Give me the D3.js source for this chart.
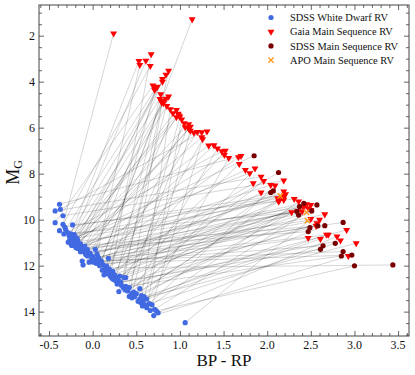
<!DOCTYPE html>
<html>
<head>
<meta charset="utf-8">
<script src="https://cdn.jsdelivr.net/npm/d3@7"></script>
<style>
  body { margin: 0; background: #fff; }
  svg text { font-family: "Liberation Serif", "DejaVu Serif", serif; fill: #111; }
</style>
</head>
<body>
<div id="chart"></div>
<script>
// main sequence companions (BP-RP, M_G) and where the RV came from
const msBpRp = [
  0.24, 1.14, 0.53, 0.54, 0.61, 0.67, 0.66, 0.87, 0.84, 0.80, 0.80, 0.69, 0.72, 0.74, 0.71, 0.78,
  0.77, 0.80, 0.81, 0.79, 0.84, 0.87, 0.85, 0.89, 0.96, 0.92, 0.98, 1.00, 0.96, 1.02, 0.99, 1.05,
  1.06, 1.10, 1.12, 1.12, 1.16, 1.20, 1.25, 1.31, 1.25, 1.26, 1.33, 1.39, 1.43, 1.48, 1.52, 1.51,
  1.56, 1.67, 1.70, 1.68, 1.75, 1.86, 1.80, 1.84, 1.93, 1.96, 2.04, 2.09, 2.19, 1.93, 2.12, 2.14,
  2.20, 2.19, 2.21, 2.17, 2.19, 2.13, 2.31, 2.36, 2.28, 2.35, 2.40, 2.41, 2.45, 2.50, 2.47, 2.50,
  2.66, 2.50, 2.60, 2.57, 2.56, 2.68, 2.70, 2.91, 2.80, 2.84, 2.61, 2.47, 3.02, 2.93, 1.10, 2.43,
  1.85, 2.13, 2.07, 2.04, 2.42, 2.37, 2.57, 2.51, 2.34, 2.36, 2.58, 2.66, 2.87, 2.49, 2.47, 2.78,
  2.64, 2.61, 2.87, 2.85, 2.97, 3.00, 3.44,
  2.15, 2.45, 2.46
];
const msMag = [
  1.90, 1.29, 3.10, 3.27, 3.09, 2.81, 3.32, 3.53, 3.70, 3.88, 4.00, 4.17, 4.29, 4.22, 4.36, 4.55,
  4.75, 4.84, 4.94, 4.90, 4.74, 4.65, 5.06, 5.20, 5.23, 5.37, 5.40, 5.52, 5.55, 5.64, 5.47, 5.81,
  5.98, 5.85, 5.96, 6.13, 6.22, 6.19, 6.20, 6.17, 6.42, 6.50, 6.78, 6.77, 6.91, 7.03, 7.00, 7.19,
  7.32, 7.29, 7.23, 7.58, 7.84, 7.78, 7.98, 8.42, 8.13, 8.32, 8.49, 8.52, 8.30, 8.82, 9.07, 9.17,
  8.93, 8.78, 8.90, 9.00, 9.14, 9.21, 9.10, 9.21, 9.68, 9.62, 9.65, 9.43, 9.33, 9.36, 9.50, 9.58,
  9.77, 9.97, 10.01, 10.16, 10.27, 10.66, 10.66, 10.45, 10.73, 10.91, 10.84, 10.80, 11.03, 11.58, 6.05, 9.40,
  7.22, 7.95, 8.75, 8.82, 9.29, 9.43, 9.36, 9.62, 9.65, 9.80, 10.27, 10.26, 10.12, 10.35, 10.52, 11.03,
  11.14, 11.29, 11.39, 11.58, 11.54, 12.01, 11.97,
  8.97, 9.68, 10.04
];
const msSource = [].concat(
  Array(96).fill("gaia"),
  Array(23).fill("sdss"),
  Array(3).fill("apo")
);

// white dwarf of each pair, same order
const wdBpRp = [
  -0.34, 0.10, -0.25, 0.05, -0.22, 0.21, -0.38, 0.36, -0.19, 0.03, -0.27, -0.43, 0.13, -0.16, -0.31, 0.26,
  -0.24, 0.42, -0.12, 0.08, -0.21, 0.30, -0.14, 0.55, -0.20, 0.19, -0.28, 0.45, -0.06, 0.62, -0.23, 0.25,
  -0.17, 0.40, -0.10, 0.58, -0.25, 0.16, -0.37, 0.33, -0.18, 0.66, -0.22, 0.00, 0.47, -0.29, 0.22, -0.13,
  0.60, -0.04, -0.38, 0.29, -0.15, 0.54, -0.26, 0.11, -0.43, 0.37, -0.19, 0.65, -0.34, 0.31, -0.24, 0.50,
  -0.21, 0.07, -0.32, 0.45, -0.18, 0.23, -0.23, 0.68, -0.08, 0.38, -0.33, 0.56, -0.03, 0.27, -0.12, 0.71,
  0.02, 1.06, -0.11, 0.35, 0.04, 0.59, 0.18, 0.42, 0.75, 0.30, 0.62, 0.12, 0.54, 0.70, -0.09, 0.15,
  -0.26, 0.17, -0.14, 0.40, -0.11, 0.20, -0.23, 0.48, -0.06, 0.24, -0.20, 0.52, -0.01, 0.28, -0.17, 0.57,
  0.01, 0.32, 0.05, 0.38, 0.09, 0.73, 0.14,
  -0.02, 0.06, -0.08
];
const wdMag = [
  10.20, 11.80, 10.62, 11.50, 10.72, 12.30, 10.48, 12.52, 10.95, 11.29, 10.70, 10.13, 12.40, 11.15, 10.42, 12.65,
  10.78, 13.34, 11.35, 12.00, 10.85, 13.13, 11.05, 13.60, 11.00, 12.15, 10.98, 13.20, 11.58, 13.83, 10.92, 12.40,
  10.90, 12.98, 11.40, 13.52, 11.05, 12.02, 9.55, 12.85, 11.05, 13.95, 11.10, 11.62, 13.15, 10.55, 12.55, 11.20,
  13.70, 11.85, 9.33, 12.60, 11.28, 13.00, 10.85, 12.20, 9.62, 13.05, 11.22, 13.65, 9.83, 12.45, 11.12, 13.22,
  10.65, 11.68, 10.32, 13.40, 10.80, 12.25, 10.23, 13.70, 11.52, 12.52, 10.62, 13.30, 11.45, 12.50, 11.80, 13.90,
  11.75, 14.48, 11.97, 12.95, 11.90, 13.35, 11.68, 12.95, 14.05, 12.75, 13.45, 11.95, 13.44, 14.17, 11.15, 12.25,
  10.90, 12.35, 11.40, 13.10, 11.25, 12.45, 11.00, 13.35, 11.30, 12.60, 11.15, 13.55, 11.70, 12.80, 11.25, 13.75,
  11.85, 12.70, 11.80, 12.90, 11.90, 13.97, 12.10,
  11.55, 11.62, 11.45
];

const xMajor = [-0.5, 0.0, 0.5, 1.0, 1.5, 2.0, 2.5, 3.0, 3.5];
const yMajor = [2, 4, 6, 8, 10, 12, 14];

const legendLabels = ["SDSS White Dwarf RV", "Gaia Main Sequence RV", "SDSS Main Sequence RV", "APO Main Sequence RV"];
const legendKeys = ["wd", "gaia", "sdss", "apo"];

const colors = { wd: "#4169e1", gaia: "#ff0000", sdss: "#7a0000", apo: "#ff9b1a" };

const width = 415, height = 375;
const frame = { left: 39, right: 409, top: 5, bottom: 336 };

const pairs = wdBpRp.map((c, i) => ({
    wdX: c, wdY: wdMag[i],
    msX: msBpRp[i], msY: msMag[i], src: msSource[i]
}));

const svg = d3.select("#chart")
    .append("svg")
    .attr("width", width)
    .attr("height", height);

const x = d3.scaleLinear()
    .domain([-0.615, 3.625])
    .range([frame.left, frame.right]);

const y = d3.scaleLinear()
    .domain([0.665, 15.06])
    .range([frame.top, frame.bottom]);

// ticks, all inward, on every side
const xMinor = d3.range(-0.6, 3.65, 0.1).filter(v => Math.abs(Math.round(v * 2) - v * 2) > 1e-6);
const yMinor = d3.range(1, 15.01, 1).concat(d3.range(1.5, 15, 1)).filter(v => v % 2 !== 0);

function axis(gen, scale, vals, size, fmt) {
    return gen(scale).tickValues(vals).tickSize(size).tickPadding(4).tickFormat(fmt || "");
}

const h = frame.bottom - frame.top, w = frame.right - frame.left;

svg.append("g").attr("transform", `translate(0,${frame.bottom})`)
    .call(axis(d3.axisTop, x, xMinor, 3))
    .call(g => g.select(".domain").remove());
svg.append("g").attr("transform", `translate(0,${frame.bottom})`)
    .call(d3.axisTop(x).tickValues(xMajor).tickSize(5).tickFormat(""))
    .call(g => g.select(".domain").remove());
svg.append("g").attr("transform", `translate(0,${frame.top})`)
    .call(axis(d3.axisBottom, x, xMinor, 3))
    .call(g => g.select(".domain").remove());
svg.append("g").attr("transform", `translate(0,${frame.top})`)
    .call(d3.axisBottom(x).tickValues(xMajor).tickSize(5).tickFormat(""))
    .call(g => g.select(".domain").remove());

svg.append("g").attr("transform", `translate(${frame.left},0)`)
    .call(axis(d3.axisRight, y, yMinor, 3))
    .call(g => g.select(".domain").remove());
svg.append("g").attr("transform", `translate(${frame.left},0)`)
    .call(d3.axisRight(y).tickValues(yMajor).tickSize(5).tickFormat(""))
    .call(g => g.select(".domain").remove());
svg.append("g").attr("transform", `translate(${frame.right},0)`)
    .call(axis(d3.axisLeft, y, yMinor, 3))
    .call(g => g.select(".domain").remove());
svg.append("g").attr("transform", `translate(${frame.right},0)`)
    .call(d3.axisLeft(y).tickValues(yMajor).tickSize(5).tickFormat(""))
    .call(g => g.select(".domain").remove());

svg.selectAll(".tick line").attr("stroke", "#555").attr("stroke-width", 0.9);

// tick labels
svg.append("g")
    .selectAll("text")
    .data(xMajor)
    .join("text")
    .attr("x", d => x(d))
    .attr("y", frame.bottom + 13)
    .attr("text-anchor", "middle")
    .attr("font-size", 12)
    .text(d => d.toFixed(1));

svg.append("g")
    .selectAll("text")
    .data(yMajor)
    .join("text")
    .attr("x", frame.left - 4)
    .attr("y", d => y(d) + 4)
    .attr("text-anchor", "end")
    .attr("font-size", 12)
    .text(d => d);

// axis titles
svg.append("text")
    .attr("x", (frame.left + frame.right) / 2)
    .attr("y", 366)
    .attr("text-anchor", "middle")
    .attr("font-size", 17)
    .text("BP - RP");

const yl = svg.append("text")
    .attr("transform", `translate(19,${(frame.top + frame.bottom) / 2 + 2}) rotate(-90)`)
    .attr("text-anchor", "middle")
    .attr("font-size", 18);
yl.append("tspan").text("M");
yl.append("tspan").attr("font-size", 12).attr("dy", 3).text("G");

// connecting lines
svg.append("g")
    .selectAll("line")
    .data(pairs)
    .join("line")
    .attr("x1", d => x(d.wdX))
    .attr("y1", d => y(d.wdY))
    .attr("x2", d => x(d.msX))
    .attr("y2", d => y(d.msY))
    .attr("stroke", "#000")
    .attr("stroke-opacity", 0.28)
    .attr("stroke-width", 0.6);

// white dwarfs
svg.append("g")
    .selectAll("circle")
    .data(pairs)
    .join("circle")
    .attr("cx", d => x(d.wdX))
    .attr("cy", d => y(d.wdY))
    .attr("r", 2.6)
    .attr("fill", colors.wd);

const tri = d3.symbol().type(d3.symbolTriangle).size(21);
const cross = d3.symbol().type(d3.symbolX).size(20);

function drawMarker(sel, key, cx, cy) {
    if (key === "wd" || key === "sdss") {
        sel.append("circle").attr("cx", cx).attr("cy", cy).attr("r", 2.6).attr("fill", colors[key]);
    } else if (key === "gaia") {
        sel.append("path").attr("d", tri())
            .attr("transform", `translate(${cx},${cy}) rotate(180)`)
            .attr("fill", colors.gaia);
    } else {
        sel.append("path").attr("d", cross())
            .attr("transform", `translate(${cx},${cy})`)
            .attr("fill", "none")
            .attr("stroke", colors.apo)
            .attr("stroke-width", 1.3);
    }
}

// companions
const msLayer = svg.append("g");
pairs.forEach(d => drawMarker(msLayer, d.src, x(d.msX), y(d.msY)));

// frame
svg.append("rect")
    .attr("x", frame.left)
    .attr("y", frame.top)
    .attr("width", w)
    .attr("height", h)
    .attr("fill", "none")
    .attr("stroke", "#444")
    .attr("stroke-width", 1);

// legend
const legend = svg.append("g");
legendKeys.forEach((k, i) => {
    const ly = 17.5 + i * 14.2;
    drawMarker(legend, k, 271, ly);
    legend.append("text")
        .attr("x", 290)
        .attr("y", ly + 3.6)
        .attr("font-size", 10.4)
        .text(legendLabels[i]);
});
</script>
</body>
</html>
